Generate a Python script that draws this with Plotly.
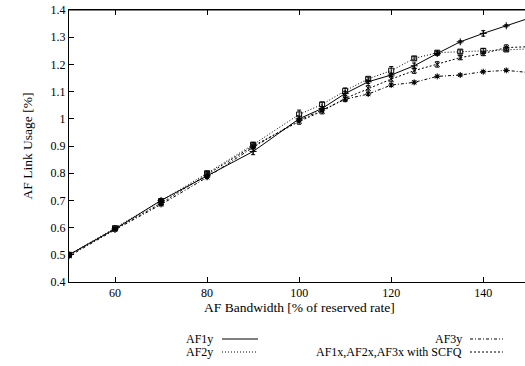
import plotly.graph_objects as go

x = [50, 60, 70, 80, 90, 100, 105, 110, 115, 120, 125, 130, 135, 140, 145, 150]
af1y = [0.50, 0.595, 0.70, 0.79, 0.88, 1.00, 1.038, 1.093, 1.136, 1.161, 1.195, 1.24, 1.283, 1.314, 1.342, 1.37]
af1y_err = [0.008, 0.005, 0.005, 0.006, 0.012, 0.010, 0.006, 0.008, 0.006, 0.006, 0.010, 0.006, 0.004, 0.010, 0.004, 0.004]
af2y = [0.50, 0.598, 0.698, 0.80, 0.905, 1.016, 1.053, 1.103, 1.147, 1.177, 1.222, 1.243, 1.247, 1.25, 1.255, 1.257]
af2y_err = [0.006, 0.005, 0.005, 0.006, 0.008, 0.016, 0.008, 0.010, 0.006, 0.015, 0.006, 0.006, 0.006, 0.008, 0.006, 0.006]
af3y = [0.495, 0.592, 0.685, 0.785, 0.895, 0.995, 1.032, 1.072, 1.091, 1.124, 1.134, 1.156, 1.161, 1.173, 1.178, 1.17]
af3y_err = [0.005, 0.004, 0.005, 0.005, 0.006, 0.006, 0.005, 0.006, 0.005, 0.005, 0.005, 0.004, 0.004, 0.004, 0.004, 0.004]
scfq = [0.50, 0.596, 0.69, 0.795, 0.90, 0.99, 1.028, 1.075, 1.112, 1.146, 1.177, 1.20, 1.225, 1.24, 1.262, 1.265]
scfq_err = [0.006, 0.005, 0.006, 0.006, 0.008, 0.010, 0.010, 0.012, 0.010, 0.010, 0.010, 0.010, 0.008, 0.008, 0.010, 0.008]

series = [
    ("AF1y", af1y, af1y_err, "solid", "cross-thin-open"),
    ("AF2y", af2y, af2y_err, "1px,2px", "square-open"),
    ("AF3y", af3y, af3y_err, "3px,2px,1px,2px", "asterisk-open"),
    ("AF1x,AF2x,AF3x with SCFQ", scfq, scfq_err, "2px,2px", "x-thin-open"),
]

fig = go.Figure()
for name, ys, err, dash, sym in series:
    fig.add_trace(go.Scatter(
        x=x, y=ys, name=name, mode="lines+markers",
        line=dict(color="black", width=1, dash=dash),
        marker=dict(symbol=sym, size=5, color="black", line=dict(color="black", width=1)),
        error_y=dict(type="data", array=err, visible=True, color="black", thickness=1, width=2),
        cliponaxis=True,
    ))

family = "Liberation Serif, Times New Roman, serif"
font = dict(family=family, size=13.5, color="black")
tfont = dict(family=family, size=12, color="black")
lfont = dict(family=family, size=12, color="black")

fig.update_layout(
    width=525, height=366,
    margin=dict(l=69, r=0, t=10, b=84),
    paper_bgcolor="white", plot_bgcolor="white",
    showlegend=False,
    font=font,
    xaxis=dict(
        range=[50, 149.07], tickvals=[60, 80, 100, 120, 140], tickfont=tfont,
        ticks="inside", ticklen=5, tickcolor="black", tickwidth=1,
        showline=True, linecolor="black", linewidth=1, mirror="ticks",
        showgrid=False, zeroline=False,
    ),
    yaxis=dict(
        range=[0.4, 1.4], tickvals=[0.4, 0.5, 0.6, 0.7, 0.8, 0.9, 1.0, 1.1, 1.2, 1.3, 1.4],
        ticktext=["0.4", "0.5", "0.6", "0.7", "0.8", "0.9", "1", "1.1", "1.2", "1.3", "1.4"],
        tickfont=tfont,
        ticks="inside", ticklen=5, tickcolor="black", tickwidth=1,
        showline=True, linecolor="black", linewidth=1,
        showgrid=False, zeroline=False,
        title=dict(text="AF Link Usage [%]", font=font, standoff=14),
    ),
)

fig.add_shape(type="line", xref="paper", yref="paper", x0=0, x1=1, y0=1, y1=1,
              line=dict(color="black", width=1))

def px(v):
    return (v - 69) / 456.0

def py(v):
    return (282 - v) / 272.0

# x-axis title
fig.add_annotation(text="AF Bandwidth [% of reserved rate]", xref="paper", yref="paper",
                   x=px(299), y=py(307), xanchor="center", yanchor="middle",
                   showarrow=False, font=font, borderpad=0)

legend_items = [
    (series[0], 214, 222, 258, 339),
    (series[1], 214, 222, 258, 352),
    (series[2], 463, 470, 503, 339),
    (series[3], 463, 470, 503, 352),
]
for (name, ys, err, dash, sym), tx, l0, l1, yy in legend_items:
    fig.add_annotation(text=name, xref="paper", yref="paper", x=px(tx), y=py(yy),
                       xanchor="right", yanchor="middle", showarrow=False, font=lfont,
                       borderpad=0)
    fig.add_shape(type="line", xref="paper", yref="paper", x0=px(l0), x1=px(l1),
                  y0=py(yy), y1=py(yy), line=dict(color="black", width=1, dash=dash))

fig.write_html("out.html", config={"displayModeBar": False},
               post_script="document.body.style.margin='0';")
